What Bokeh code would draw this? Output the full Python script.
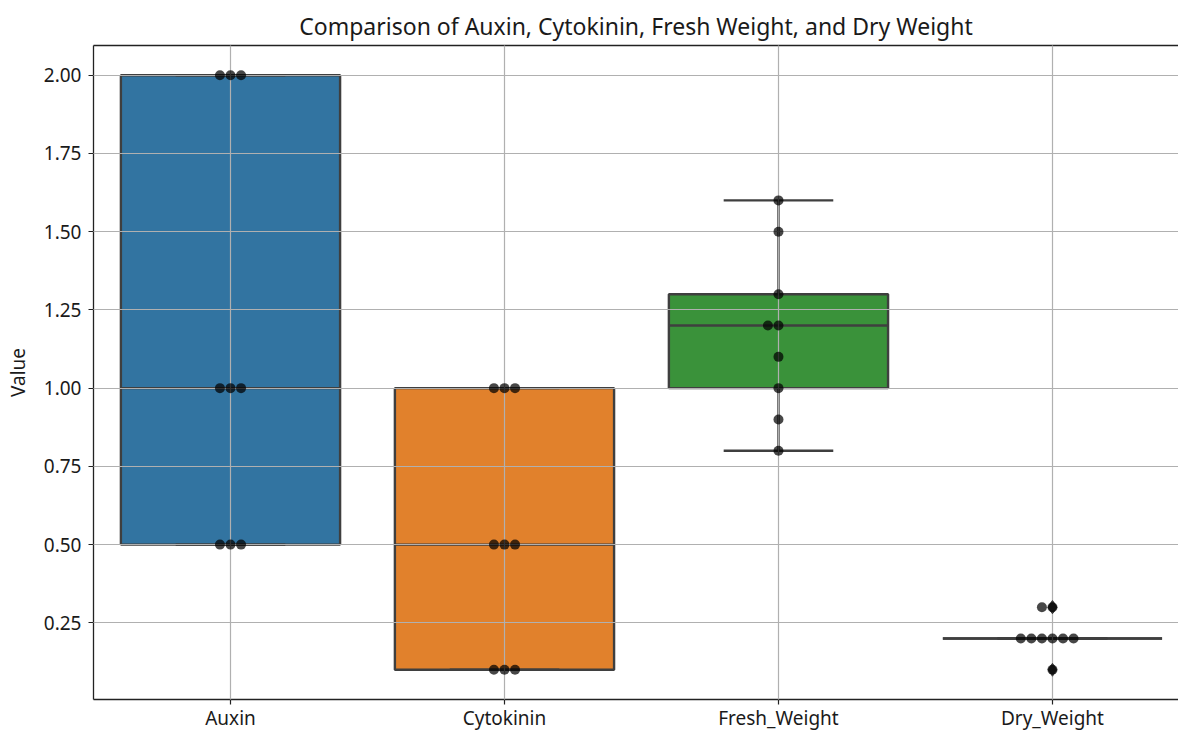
import numpy as np
from bokeh.plotting import figure
from bokeh.models import Range1d, FixedTicker, LinearAxis
from bokeh.embed import file_html
from bokeh.resources import INLINE

# ---- data ----
categories = ["Auxin", "Cytokinin", "Fresh_Weight", "Dry_Weight"]
auxin = [0.5, 0.5, 0.5, 1.0, 1.0, 1.0, 2.0, 2.0, 2.0]
cytokinin = [0.1, 0.1, 0.1, 0.5, 0.5, 0.5, 1.0, 1.0, 1.0]
fresh_weight = [0.8, 0.9, 1.0, 1.1, 1.2, 1.2, 1.3, 1.5, 1.6]
dry_weight = [0.1, 0.2, 0.2, 0.2, 0.2, 0.2, 0.2, 0.3, 0.3]
box_colors = ["#3274a1", "#e1812c", "#3a923a", "#c03d3e"]
y_ticks = [0.25, 0.50, 0.75, 1.00, 1.25, 1.50, 1.75, 2.00]
title_text = "Comparison of Auxin, Cytokinin, Fresh Weight, and Dry Weight"
y_label = "Value"

series = [auxin, cytokinin, fresh_weight, dry_weight]

FONT = "Noto Sans"
EDGE = "#3f3f3f"
TXT = "#1a1a1a"

p = figure(width=1178, height=733, output_backend="svg", toolbar_location=None,
           x_range=Range1d(-0.5, 3.46), y_range=Range1d(0.005, 2.095),
           min_border_left=93, min_border_top=45, min_border_right=0, min_border_bottom=34)
p.title.text = title_text
p.title.align = "center"
p.title.text_font = FONT
p.title.text_font_size = "23px"
p.title.text_font_style = "normal"
p.title.text_color = TXT
p.title.offset = 9
p.title.standoff = 8
p.outline_line_color = None
p.background_fill_color = "white"
p.border_fill_color = "white"

# boxes
box_l, box_r, box_b, box_t, box_c = [], [], [], [], []
med_x0, med_x1, med_y = [], [], []
wx, wy0, wy1 = [], [], []
cap_x0, cap_x1, cap_y = [], [], []
fl_x, fl_y = [], []
pt_x, pt_y = [], []
half = 0.4
cap_half = 0.2
unit = 0.0385  # swarm spacing in data units
order = [0, -1, 1, -2, 2, -3, 3, -4, 4]
for i, vals in enumerate(series):
    v = np.array(vals, dtype=float)
    q1, q2, q3 = np.percentile(v, [25, 50, 75])
    iqr = q3 - q1
    lo = v[v >= q1 - 1.5 * iqr].min()
    hi = v[v <= q3 + 1.5 * iqr].max()
    box_l.append(i - half); box_r.append(i + half)
    box_b.append(q1); box_t.append(q3); box_c.append(box_colors[i])
    med_x0.append(i - half); med_x1.append(i + half); med_y.append(q2)
    wx += [i, i]; wy0 += [q3, q1]; wy1 += [hi, lo]
    cap_x0 += [i - cap_half, i - cap_half]; cap_x1 += [i + cap_half, i + cap_half]; cap_y += [hi, lo]
    for f in v[(v < lo) | (v > hi)]:
        fl_x.append(i); fl_y.append(f)
    counts = {}
    for val in vals:
        k = counts.get(val, 0)
        counts[val] = k + 1
        pt_x.append(i + order[k] * unit)
        pt_y.append(val)

p.quad(left=box_l, right=box_r, bottom=box_b, top=box_t, fill_color=box_c,
       line_color=EDGE, line_width=2.4)
p.segment(x0=med_x0, y0=med_y, x1=med_x1, y1=med_y, line_color=EDGE, line_width=2.4)
p.segment(x0=wx, y0=wy0, x1=wx, y1=wy1, line_color=EDGE, line_width=2.4)
p.segment(x0=cap_x0, y0=cap_y, x1=cap_x1, y1=cap_y, line_color=EDGE, line_width=2.4)
fl = p.scatter(x=fl_x, y=fl_y, marker="diamond", size=13, fill_color=EDGE, line_color=EDGE)
fl.level = "annotation"
pts = p.scatter(x=pt_x, y=pt_y, marker="circle", size=10, fill_color="black",
                line_color=None, fill_alpha=0.72)
pts.level = "annotation"

# grid above boxes
for g in (p.xgrid, p.ygrid):
    g.grid_line_color = "#b0b0b0"
    g.grid_line_width = 1.2
    g.level = "guide"

# axes
p.xaxis.ticker = FixedTicker(ticks=list(range(len(categories))))
p.xaxis.major_label_overrides = {i: c for i, c in enumerate(categories)}
p.yaxis.ticker = FixedTicker(ticks=y_ticks)
p.yaxis.major_label_overrides = {t: f"{t:.2f}" for t in y_ticks}
p.yaxis.axis_label = y_label
for ax in (p.xaxis, p.yaxis):
    ax.axis_line_color = "#222222"
    ax.axis_line_width = 1.3
    ax.major_tick_line_color = "#222222"
    ax.major_tick_line_width = 1.2
    ax.major_tick_out = 5
    ax.major_tick_in = 0
    ax.minor_tick_line_color = None
    ax.major_label_text_font = FONT
    ax.major_label_text_font_size = "19px"
    ax.major_label_text_color = TXT
    ax.axis_label_text_font = FONT
    ax.axis_label_text_font_size = "19px"
    ax.axis_label_text_font_style = "normal"
    ax.axis_label_text_color = TXT
p.yaxis.major_label_standoff = 7
p.xaxis.major_label_standoff = 0
p.yaxis.axis_label_standoff = 10

# top spine
top = LinearAxis(ticker=FixedTicker(ticks=[]), axis_line_color="#222222", axis_line_width=1.3,
                 major_tick_out=0, major_tick_in=0, minor_tick_line_color=None,
                 major_label_text_font_size="0px")
p.add_layout(top, "above")

open("out.html", "w").write(file_html(p, INLINE))
